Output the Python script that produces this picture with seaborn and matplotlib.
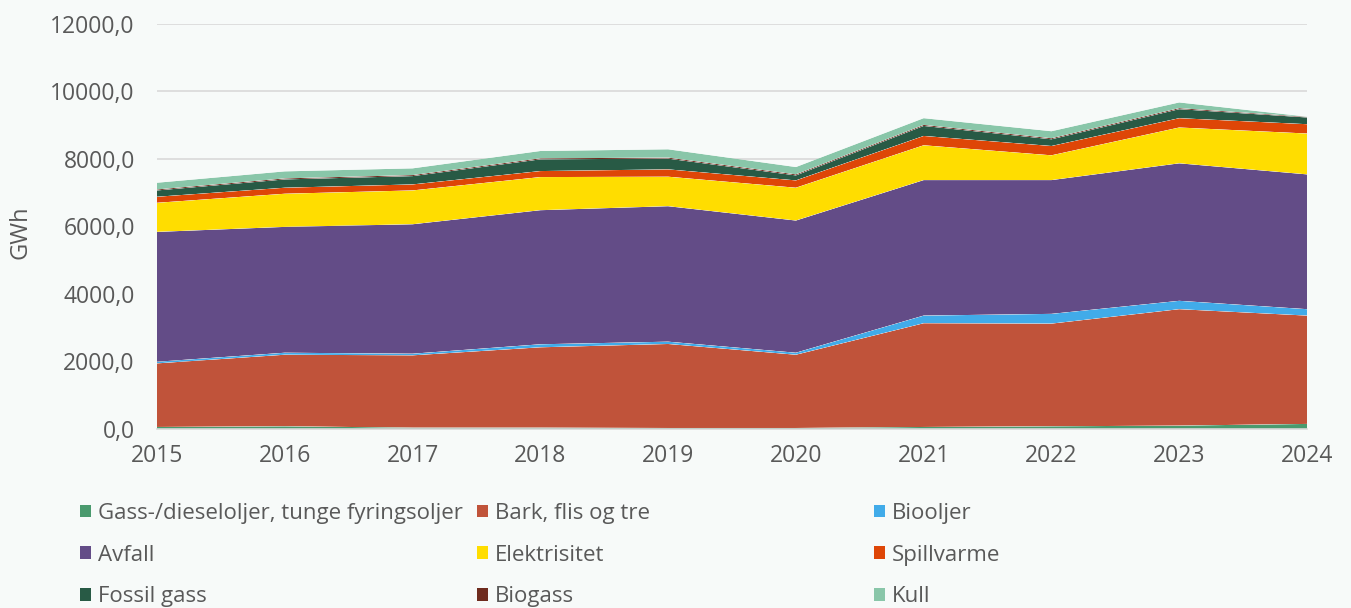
import numpy as np
import pandas as pd
import matplotlib
matplotlib.use("Agg")
import matplotlib.pyplot as plt
import seaborn as sns
import seaborn.objects as so
from matplotlib.patches import Patch
from matplotlib.ticker import FuncFormatter

# ---------------- data (GWh) ----------------
years = [2015, 2016, 2017, 2018, 2019, 2020, 2021, 2022, 2023, 2024]

gass_diesel = [60, 80, 40, 40, 30, 30, 60, 80, 100, 150]
bark_flis = [1882, 2118, 2140, 2378, 2486, 2168, 3070, 3039, 3446, 3206]
biooljer = [48, 59, 48, 89, 68, 59, 226, 288, 247, 190]
avfall = [3843, 3724, 3831, 3968, 4009, 3912, 4010, 3959, 4069, 3989]
elektrisitet = [861, 981, 1001, 980, 873, 971, 1030, 733, 1060, 1209]
spillvarme = [179, 178, 178, 178, 217, 217, 276, 276, 276, 276]
fossil_gass = [187, 246, 246, 347, 318, 148, 297, 199, 267, 199]
biogass = [29, 30, 30, 30, 30, 30, 30, 30, 30, 18]
kull = [199, 208, 199, 217, 246, 217, 199, 208, 169, 6]

series_names = [
    "Gass-/dieseloljer, tunge fyringsoljer",
    "Bark, flis og tre",
    "Biooljer",
    "Avfall",
    "Elektrisitet",
    "Spillvarme",
    "Fossil gass",
    "Biogass",
    "Kull",
]
series_values = [gass_diesel, bark_flis, biooljer, avfall, elektrisitet,
                 spillvarme, fossil_gass, biogass, kull]
series_colors = ["#4A9A6E", "#C0533A", "#41ABE9", "#634C87", "#FFDD00",
                 "#DE4607", "#285A45", "#6E2B1E", "#89C6A9"]

y_ticks = [0, 2000, 4000, 6000, 8000, 10000, 12000]

# ---------------- style ----------------
BG = "#F7FAF9"
TXT = "#595959"
GRID = "#D9D9D9"

sns.set_theme(style="white")
plt.rcParams["font.family"] = ["Open Sans", "DejaVu Sans"]

rows = []
for name, vals in zip(series_names, series_values):
    for yr, v in zip(years, vals):
        rows.append({"year": yr, "value": v, "kilde": name})
df = pd.DataFrame(rows)

fig = plt.figure(figsize=(13.51, 6.08), dpi=100, facecolor=BG)
ax = fig.add_axes([157 / 1351, 1 - 429 / 608, 1150 / 1351, 405.5 / 608])

palette = dict(zip(series_names, series_colors))
(
    so.Plot(df, x="year", y="value", color="kilde")
    .add(so.Area(alpha=1, edgewidth=0), so.Stack())
    .scale(color=so.Nominal(palette, order=series_names))
    .on(ax)
    .plot()
)
fig.legends.clear()

ax.set_facecolor(BG)
fig.set_facecolor(BG)
ax.set_xlim(years[0], years[-1])
ax.set_ylim(y_ticks[0], y_ticks[-1])
ax.set_xticks(years)
ax.set_xticklabels([str(y) for y in years])
ax.set_yticks(y_ticks)
ax.yaxis.set_major_formatter(FuncFormatter(lambda v, p: f"{v:.1f}".replace(".", ",")))
ax.grid(False)
ax.yaxis.grid(True, color=GRID, linewidth=1.2)
ax.set_axisbelow(True)
for s in ["top", "right", "left"]:
    ax.spines[s].set_visible(False)
ax.spines["bottom"].set_color(GRID)
ax.spines["bottom"].set_linewidth(1.2)
ax.spines["bottom"].set_zorder(3)
ax.tick_params(axis="both", length=0, labelsize=16.5, labelcolor=TXT)
ax.tick_params(axis="y", pad=16)
ax.tick_params(axis="x", pad=11)
ax.set_xlabel("")
ax.set_ylabel("GWh", fontsize=17, color=TXT)
ax.yaxis.set_label_coords(-0.1085, 0.485)

# ---------------- legend: 3 columns, row-major order ----------------
handles = [Patch(facecolor=c, edgecolor="none") for c in series_colors]
col_x = [80 / 1351, 477 / 1351, 874 / 1351]
for ci in range(3):
    idx = [ci, ci + 3, ci + 6]
    fig.legend([handles[i] for i in idx], [series_names[i] for i in idx],
               loc="upper left", bbox_to_anchor=(col_x[ci], 1 - 503 / 608),
               frameon=False, fontsize=16, labelcolor=TXT,
               handlelength=0.5, handleheight=0.5, handletextpad=0.3,
               labelspacing=0.93, borderpad=0, borderaxespad=0)

fig.savefig("out.png", dpi=100, facecolor=BG)
